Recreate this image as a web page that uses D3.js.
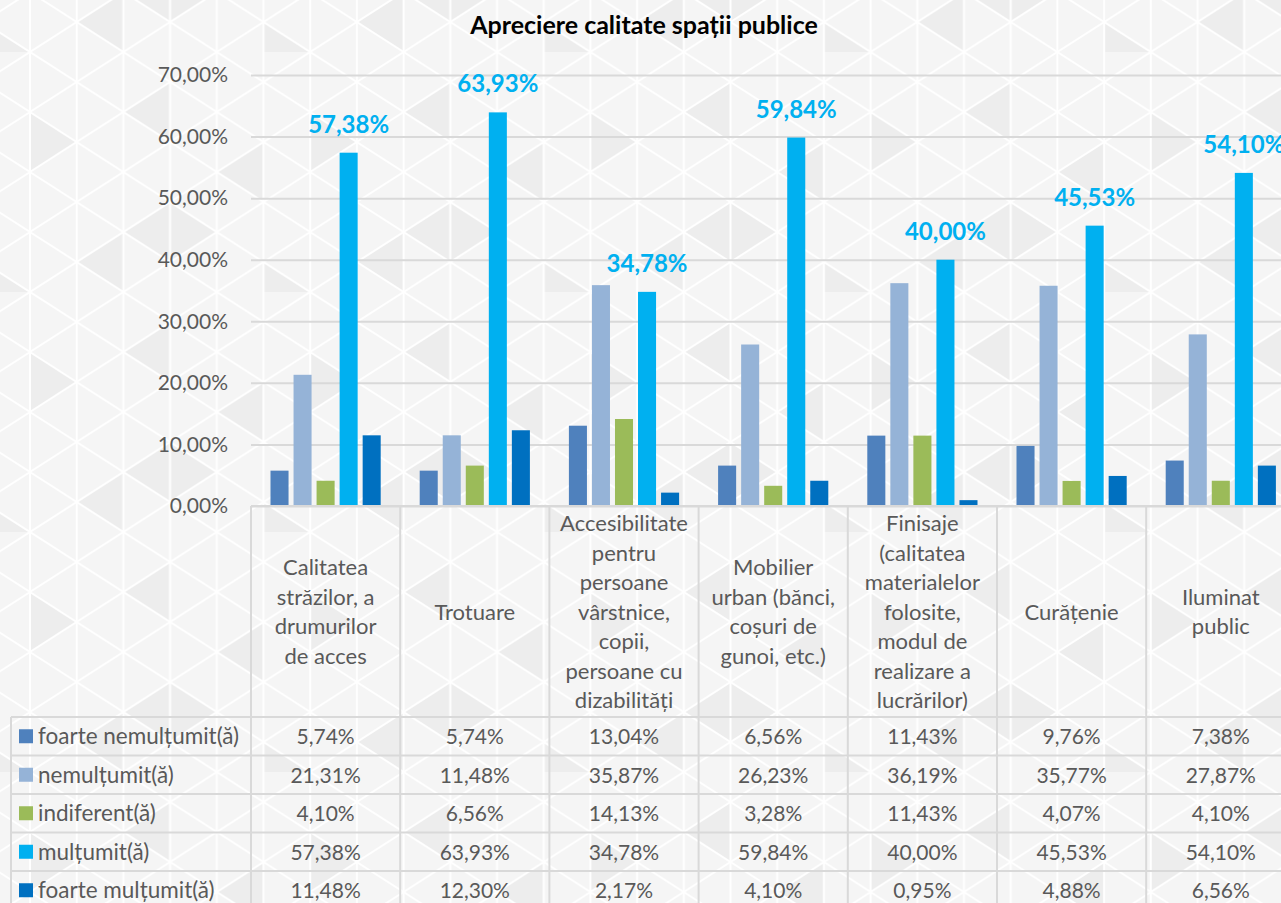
<!DOCTYPE html>
<html>
<head>
<meta charset="utf-8">
<script src="https://d3js.org/d3.v7.min.js"></script>
<style>
  body { margin: 0; background: #f5f5f5; }
  svg { display: block; font-family: Lato, "Noto Sans", sans-serif; }
</style>
</head>
<body>
<div id="chart"></div>
<script>
// chart data
var categories = [
    "Calitatea străzilor, a drumurilor de acces",
    "Trotuare",
    "Accesibilitate pentru persoane vârstnice, copii, persoane cu dizabilități",
    "Mobilier urban (bănci, coșuri de gunoi, etc.)",
    "Finisaje (calitatea materialelor folosite, modul de realizare a lucrărilor)",
    "Curățenie",
    "Iluminat public"
];
// how each category label wraps in the table header
var categoryLines = [
    ["Calitatea", "străzilor, a", "drumurilor", "de acces"],
    ["Trotuare"],
    ["Accesibilitate", "pentru", "persoane", "vârstnice,", "copii,", "persoane cu", "dizabilități"],
    ["Mobilier", "urban (bănci,", "coșuri de", "gunoi, etc.)"],
    ["Finisaje", "(calitatea", "materialelor", "folosite,", "modul de", "realizare a", "lucrărilor)"],
    ["Curățenie"],
    ["Iluminat", "public"]
];
var seriesNames = ["foarte nemulțumit(ă)", "nemulțumit(ă)", "indiferent(ă)", "mulțumit(ă)", "foarte mulțumit(ă)"];
var seriesColors = ["#4f81bd", "#95b3d7", "#9bbb59", "#00b0f0", "#0070c0"];

var foarteNemultumit = [5.74, 5.74, 13.04, 6.56, 11.43, 9.76, 7.38];
var nemultumit = [21.31, 11.48, 35.87, 26.23, 36.19, 35.77, 27.87];
var indiferent = [4.10, 6.56, 14.13, 3.28, 11.43, 4.07, 4.10];
var multumit = [57.38, 63.93, 34.78, 59.84, 40.00, 45.53, 54.10];
var foarteMultumit = [11.48, 12.30, 2.17, 4.10, 0.95, 4.88, 6.56];

var seriesValues = [foarteNemultumit, nemultumit, indiferent, multumit, foarteMultumit];
var yTicks = [0, 10, 20, 30, 40, 50, 60, 70];
var labelledSeries = 3; // only "mulțumit(ă)" bars carry a data label

// layout
var svgWidth = 1281;
var svgHeight = 903;
var plotLeft = 251;
var colWidth = 149.2;
var plotTop = 75;
var plotBottom = 506;
var headerBottom = 717;
var rowHeight = 38.5;
var tableLeft = 11;

var fmt = function(v) { return v.toFixed(2).replace(".", ",") + "%"; };

var svg = d3.select("#chart").append("svg")
    .attr("width", svgWidth)
    .attr("height", svgHeight);

// background watermark: light triangle lattice
var defs = svg.append("defs");
var tw = 46.7, th = 60;
var pat = defs.append("pattern")
    .attr("id", "tri")
    .attr("patternUnits", "userSpaceOnUse")
    .attr("x", 30).attr("y", 52)
    .attr("width", tw * 6).attr("height", th * 4);
pat.append("rect").attr("width", tw * 6).attr("height", th * 4).attr("fill", "#f5f5f5");
var off = function(c) { return (c % 2) * th / 2; };
var shaded = [[0, 1, "r"], [2, 0, "l"], [3, 2, "r"], [1, 3, "l"], [4, 1, "l"], [5, 3, "r"], [2, 2, "l"]];
shaded.forEach(function(s) {
    var c = s[0], k = s[1], pts;
    if (s[2] === "r") {
        pts = [[c * tw, off(c) + th * k], [c * tw, off(c) + th * (k + 1)], [(c + 1) * tw, off(c) + th * k + th / 2]];
    } else {
        pts = [[(c + 1) * tw, off(c + 1) + th * k], [(c + 1) * tw, off(c + 1) + th * (k + 1)], [c * tw, off(c + 1) + th * k + th / 2]];
    }
    pat.append("path").attr("d", "M" + pts.join("L") + "Z").attr("fill", "#ededed");
});
var lines = pat.append("g").attr("stroke", "#ffffff").attr("stroke-width", 2).attr("fill", "none");
for (var c = 0; c <= 6; c++) {
    lines.append("line").attr("x1", c * tw).attr("x2", c * tw).attr("y1", 0).attr("y2", th * 4);
}
for (var k = -6; k <= 6; k++) {
    lines.append("line").attr("x1", 0).attr("y1", k * th).attr("x2", tw * 6).attr("y2", k * th + th * 3);
    lines.append("line").attr("x1", 0).attr("y1", k * th).attr("x2", tw * 6).attr("y2", k * th - th * 3);
}
svg.append("rect").attr("width", svgWidth).attr("height", svgHeight).attr("fill", "url(#tri)");

// scales
var x0 = d3.scaleBand()
    .domain(categories)
    .range([plotLeft, plotLeft + colWidth * categories.length]);

var x1 = d3.scaleBand()
    .domain(seriesNames)
    .range([19.5, colWidth - 19.5])
    .paddingInner(0.217);

var y = d3.scaleLinear()
    .domain([0, 70])
    .range([plotBottom, plotTop]);

// gridlines + y axis labels
var leftAxis = d3.axisLeft(y)
    .tickValues(yTicks)
    .tickSize(-(svgWidth - plotLeft))
    .tickPadding(23)
    .tickFormat(function(d) { return fmt(d); });

var yAxis = svg.append("g")
    .attr("transform", `translate(${plotLeft}, 0)`)
    .call(leftAxis);
yAxis.select(".domain").remove();
yAxis.selectAll(".tick line").attr("stroke", "#d9d9d9").attr("stroke-width", 2);
yAxis.selectAll(".tick text")
    .attr("fill", "#595959")
    .attr("font-size", 21)
    .attr("font-family", "Lato, sans-serif");

// bars
var groups = svg.append("g").selectAll("g")
    .data(categories)
    .join("g")
    .attr("transform", d => `translate(${x0(d)}, 0)`);

groups.selectAll("rect")
    .data((d, i) => seriesNames.map((s, j) => ({ s: s, v: seriesValues[j][i], j: j })))
    .join("rect")
    .attr("x", d => x1(d.s))
    .attr("width", x1.bandwidth())
    .attr("y", d => y(d.v))
    .attr("height", d => y(0) - y(d.v))
    .attr("fill", d => seriesColors[d.j]);

// data labels on the "mulțumit" bars
groups.append("text")
    .attr("x", x1(seriesNames[labelledSeries]) + x1.bandwidth() / 2)
    .attr("y", (d, i) => y(seriesValues[labelledSeries][i]) - 20)
    .attr("text-anchor", "middle")
    .attr("font-size", 24)
    .attr("font-weight", "bold")
    .attr("fill", "#00b0f0")
    .text((d, i) => fmt(seriesValues[labelledSeries][i]));

// title
svg.append("text")
    .attr("x", 644)
    .attr("y", 34)
    .attr("text-anchor", "middle")
    .attr("font-size", 25)
    .attr("font-weight", "bold")
    .attr("fill", "#000")
    .text("Apreciere calitate spații publice");

// data table
var table = svg.append("g").attr("stroke", "#d9d9d9").attr("stroke-width", 2);
var tableRight = plotLeft + colWidth * categories.length;
var tableBottom = headerBottom + rowHeight * seriesNames.length;

table.append("line").attr("x1", plotLeft).attr("x2", svgWidth).attr("y1", plotBottom).attr("y2", plotBottom);
for (var r = 0; r <= seriesNames.length; r++) {
    var ry = headerBottom + r * rowHeight;
    table.append("line").attr("x1", tableLeft).attr("x2", tableRight).attr("y1", ry).attr("y2", ry);
}
table.append("line").attr("x1", tableLeft).attr("x2", tableLeft).attr("y1", headerBottom).attr("y2", tableBottom);
categories.concat([null]).forEach(function(cat, i) {
    var cx = plotLeft + i * colWidth;
    table.append("line").attr("x1", cx).attr("x2", cx).attr("y1", plotBottom).attr("y2", tableBottom);
});

// header labels
var headerMid = (plotBottom + headerBottom) / 2;
var lineH = 29.5;
groups.append("text")
    .attr("text-anchor", "middle")
    .attr("fill", "#595959")
    .attr("font-size", 22)
    .each(function(d, i) {
        var ls = categoryLines[i];
        var t = d3.select(this);
        ls.forEach(function(l, j) {
            t.append("tspan")
                .attr("x", colWidth / 2)
                .attr("y", headerMid - (ls.length - 1) * lineH / 2 + j * lineH + 8)
                .text(l);
        });
    });

// legend column + values
var rows = svg.append("g").selectAll("g")
    .data(seriesNames)
    .join("g")
    .attr("transform", (d, j) => `translate(0, ${headerBottom + j * rowHeight + rowHeight / 2})`);

rows.append("rect")
    .attr("x", 19).attr("y", -7)
    .attr("width", 14).attr("height", 14)
    .attr("fill", (d, j) => seriesColors[j]);

rows.append("text")
    .attr("x", 38).attr("y", 8)
    .attr("fill", "#595959")
    .attr("font-size", 22.5)
    .text(d => d);

rows.selectAll("text.val")
    .data((d, j) => seriesValues[j])
    .join("text")
    .attr("class", "val")
    .attr("x", (v, i) => x0(categories[i]) + colWidth / 2)
    .attr("y", 8)
    .attr("text-anchor", "middle")
    .attr("fill", "#595959")
    .attr("font-size", 21)
    .text(v => fmt(v));
</script>
</body>
</html>
